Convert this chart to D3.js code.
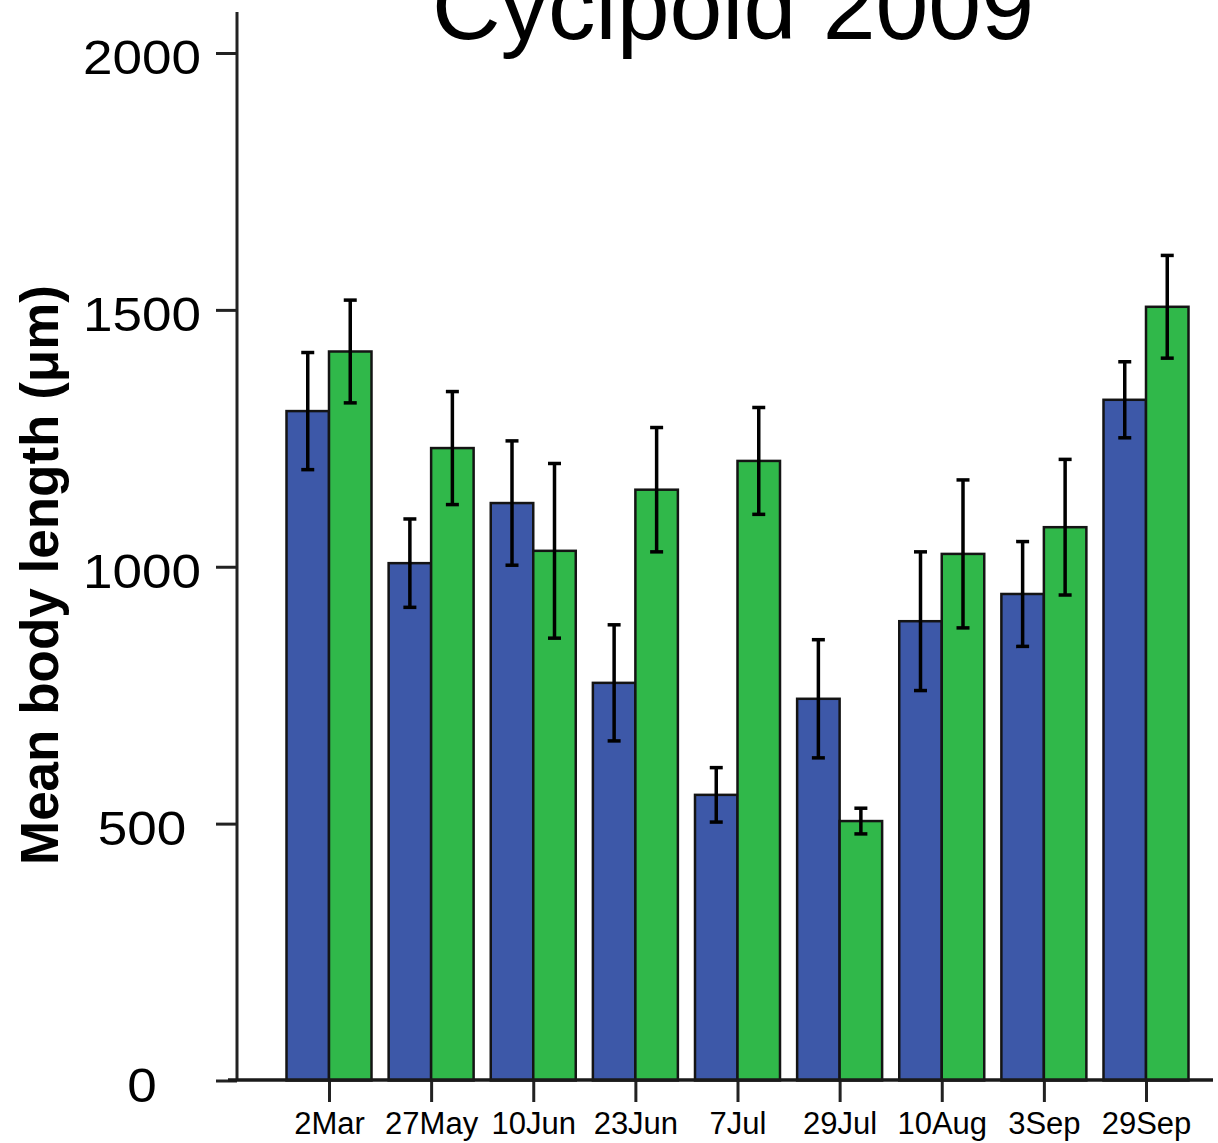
<!DOCTYPE html>
<html>
<head>
<meta charset="utf-8">
<script src="https://cdn.jsdelivr.net/npm/d3@7/dist/d3.min.js"></script>
<style>
  html, body { margin: 0; padding: 0; background: #fff; }
  svg { display: block; font-family: "Liberation Sans", Arial, sans-serif; }
</style>
</head>
<body>
<svg id="chart" width="1218" height="1143"></svg>
<script>
// Sampling dates
const dates = ["2Mar", "27May", "10Jun", "23Jun", "7Jul", "29Jul", "10Aug", "3Sep", "29Sep"];
// Mean body length (µm), first series (blue)
const blueMeans = [1303, 1007, 1124, 774, 556, 743, 894, 947, 1325];
// Error half-widths, first series
const blueErr = [114, 86, 121, 113, 53, 115, 135, 102, 74];
// Mean body length (µm), second series (green)
const greenMeans = [1419, 1231, 1031, 1150, 1206, 505, 1025, 1077, 1506];
// Error half-widths, second series
const greenErr = [100, 110, 170, 121, 104, 25, 144, 132, 100];
// Y axis ticks
const yTicks = [0, 500, 1000, 1500, 2000];

const seriesNames = ["blue", "green"];
const colors = { blue: "#3d58a8", green: "#30b84a" };

const svg = d3.select("#chart");

const y = d3.scaleLinear().domain([0, 2000]).range([1080.5, 53]);
const x = d3.scalePoint().domain(dates).range([329, 1146]);
const xs = d3.scaleBand().domain(seriesNames).range([-42.5, 42.5]);

const rows = [];
dates.forEach((d, i) => {
  rows.push({ date: d, s: "blue", v: blueMeans[i], e: blueErr[i] });
  rows.push({ date: d, s: "green", v: greenMeans[i], e: greenErr[i] });
});

// Bars
svg.append("g").selectAll("rect").data(rows).join("rect")
  .attr("x", r => x(r.date) + xs(r.s))
  .attr("y", r => y(r.v))
  .attr("width", xs.bandwidth())
  .attr("height", r => y(0) - y(r.v))
  .attr("fill", r => colors[r.s])
  .attr("stroke", "#141414")
  .attr("stroke-width", 2.5);

// Error bars
const eb = svg.append("g").attr("stroke", "#000").attr("stroke-width", 3.5);
rows.forEach(r => {
  const cx = x(r.date) + xs(r.s) + xs.bandwidth() / 2;
  const top = y(r.v + r.e), bot = y(r.v - r.e);
  eb.append("line").attr("x1", cx).attr("x2", cx).attr("y1", top).attr("y2", bot);
  eb.append("line").attr("x1", cx - 6.5).attr("x2", cx + 6.5).attr("y1", top).attr("y2", top);
  eb.append("line").attr("x1", cx - 6.5).attr("x2", cx + 6.5).attr("y1", bot).attr("y2", bot);
});

// Y axis
const yAxis = svg.append("g").attr("transform", "translate(237,0)")
  .call(d3.axisLeft(y).tickValues(yTicks).tickSize(21).tickFormat(d3.format("d")));
yAxis.select(".domain").remove();
yAxis.selectAll(".tick line").attr("stroke", "#222").attr("stroke-width", 3);
yAxis.selectAll(".tick text")
  .attr("x", -95)
  .attr("dy", "0.42em")
  .attr("text-anchor", "middle")
  .attr("font-size", 49)
  .attr("fill", "#000")
  .attr("textLength", d => String(d).length * 29.5)
  .attr("lengthAdjust", "spacingAndGlyphs");
svg.append("line").attr("x1", 237).attr("x2", 237).attr("y1", 12).attr("y2", 1081)
  .attr("stroke", "#222").attr("stroke-width", 3);

// X axis
const xAxis = svg.append("g").attr("transform", "translate(0,1080)")
  .call(d3.axisBottom(x).tickSize(22).tickPadding(10));
xAxis.select(".domain").remove();
xAxis.selectAll(".tick line").attr("stroke", "#222").attr("stroke-width", 3);
xAxis.selectAll(".tick text").attr("font-size", 31).attr("fill", "#000");
svg.append("line").attr("x1", 228).attr("x2", 1213).attr("y1", 1080).attr("y2", 1080)
  .attr("stroke", "#1a1a1a").attr("stroke-width", 3.5);

// Y axis title
svg.append("text")
  .attr("transform", "translate(58,575) rotate(-90)")
  .attr("text-anchor", "middle")
  .attr("font-size", 53)
  .attr("font-weight", "bold")
  .attr("textLength", 580)
  .attr("lengthAdjust", "spacingAndGlyphs")
  .text("Mean body length (μm)");

// Chart title
svg.append("text")
  .attr("x", 733).attr("y", 39)
  .attr("text-anchor", "middle")
  .attr("font-size", 95)
  .text("Cycipoid 2009");
</script>
</body>
</html>
